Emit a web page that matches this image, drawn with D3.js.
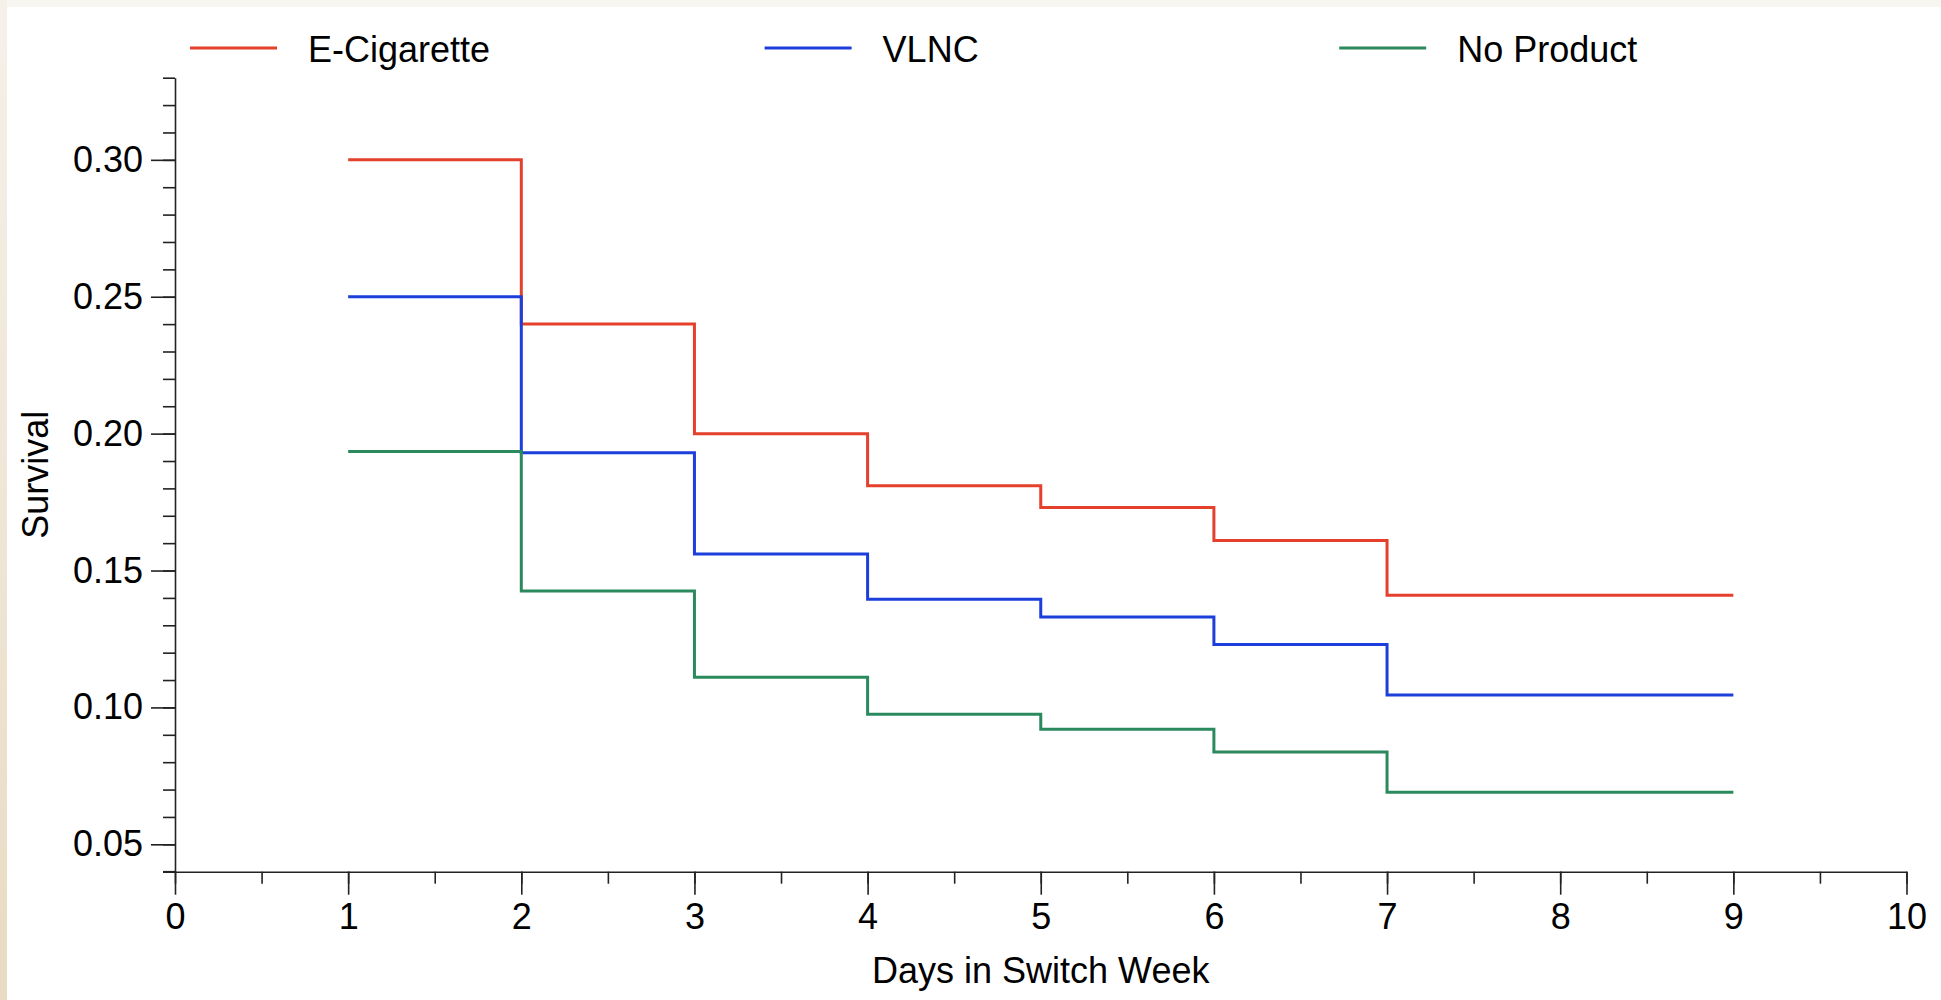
<!DOCTYPE html>
<html>
<head>
<meta charset="utf-8">
<script src="https://cdn.jsdelivr.net/npm/d3@7"></script>
<style>
  body { margin: 0; background: #fff; }
  text { font-family: "Liberation Sans", Arial, Helvetica, sans-serif; fill: #000; }
</style>
</head>
<body>
<div class="chartContainer"></div>
<script>
// step points: value holds from day[i] to day[i+1]
var days = [1, 2, 3, 4, 5, 6, 7, 9];
var eCig = [0.300, 0.240, 0.200, 0.181, 0.173, 0.161, 0.141, 0.141];
var vlnc = [0.250, 0.193, 0.156, 0.1395, 0.133, 0.123, 0.1045, 0.1045];
var noProduct = [0.1935, 0.1425, 0.111, 0.0975, 0.092, 0.0837, 0.069, 0.069];

var seriesNames = ["E-Cigarette", "VLNC", "No Product"];
var seriesColors = ["#e5402b", "#1c3edb", "#2b8a5d"];

var xTicks = [0, 1, 2, 3, 4, 5, 6, 7, 8, 9, 10];
var yTicks = [0.05, 0.10, 0.15, 0.20, 0.25, 0.30];

var w = 1941,
    h = 1000;

var svg = d3.select(".chartContainer")
    .append("svg")
    .attr("width", w)
    .attr("height", h);

// paper edge
var grad = svg.append("defs").append("linearGradient")
    .attr("id", "edge")
    .attr("x1", 0).attr("y1", 0).attr("x2", 0).attr("y2", 1);
grad.append("stop").attr("offset", "0%").attr("stop-color", "#f5f1e9");
grad.append("stop").attr("offset", "100%").attr("stop-color", "#e8dbc2");

svg.append("rect").attr("width", w).attr("height", 7).attr("fill", "#f8f6f1");
svg.append("rect").attr("width", 7).attr("height", h).attr("fill", "url(#edge)");

var x = d3.scaleLinear().domain([0, 10]).range([175, 1906.5]);
var y = d3.scaleLinear().domain([0.04, 0.33]).range([871.7, 77.7]);

// y axis: minor then major
svg.append("g")
    .attr("transform", "translate(" + x(0) + ",0)")
    .call(d3.axisLeft(y)
        .tickValues(d3.range(4, 34).map(function (d) { return d / 100; }))
        .tickSize(12).tickSizeOuter(0).tickFormat(""))
    .call(function (g) { g.select(".domain").remove(); });

var yAxis = svg.append("g")
    .attr("transform", "translate(" + x(0) + ",0)")
    .call(d3.axisLeft(y)
        .tickValues(yTicks)
        .tickSize(24).tickSizeOuter(0).tickPadding(8)
        .tickFormat(d3.format(".2f")));

// x axis: minor then major
svg.append("g")
    .attr("transform", "translate(0," + y(0.04) + ")")
    .call(d3.axisBottom(x)
        .tickValues(d3.range(0, 21).map(function (d) { return d / 2; }))
        .tickSize(12).tickSizeOuter(0).tickFormat(""))
    .call(function (g) { g.select(".domain").remove(); });

var xAxis = svg.append("g")
    .attr("transform", "translate(0," + y(0.04) + ")")
    .call(d3.axisBottom(x)
        .tickValues(xTicks)
        .tickSize(23).tickSizeOuter(0).tickPadding(9)
        .tickFormat(d3.format("d")));

svg.selectAll(".domain, .tick line")
    .attr("stroke", "#222")
    .attr("stroke-width", 1.6);

svg.selectAll(".tick text")
    .style("font-size", "36px")
    .attr("font-family", null);

// the axis lines extend to the outer minor tick on the other axis
svg.append("line")
    .attr("x1", x(0) - 12).attr("x2", x(0))
    .attr("y1", y(0.04)).attr("y2", y(0.04))
    .attr("stroke", "#222").attr("stroke-width", 1.6);

svg.append("text")
    .attr("x", (x(0) + x(10)) / 2)
    .attr("y", 983)
    .attr("text-anchor", "middle")
    .style("font-size", "36px")
    .text("Days in Switch Week");

svg.append("text")
    .attr("transform", "translate(48," + (y(0.04) + y(0.33)) / 2 + ") rotate(-90)")
    .attr("text-anchor", "middle")
    .style("font-size", "36px")
    .text("Survival");

var line = d3.line()
    .x(function (d) { return x(d[0]); })
    .y(function (d) { return y(d[1]); })
    .curve(d3.curveStepAfter);

[eCig, vlnc, noProduct].forEach(function (vals, i) {
    svg.append("path")
        .datum(d3.zip(days, vals))
        .attr("d", line)
        .attr("fill", "none")
        .attr("stroke", seriesColors[i])
        .attr("stroke-width", 3);
});

// legend
var legend = svg.selectAll(".legendItem")
    .data(seriesNames)
    .enter().append("g")
    .attr("class", "legendItem")
    .attr("transform", function (d, i) { return "translate(" + (190 + i * 574.6) + ",48)"; });

legend.append("line")
    .attr("x1", 0).attr("x2", 87)
    .attr("stroke", function (d, i) { return seriesColors[i]; })
    .attr("stroke-width", 3);

legend.append("text")
    .attr("x", 118)
    .attr("y", 13.5)
    .style("font-size", "36px")
    .text(function (d) { return d; });
</script>
</body>
</html>
